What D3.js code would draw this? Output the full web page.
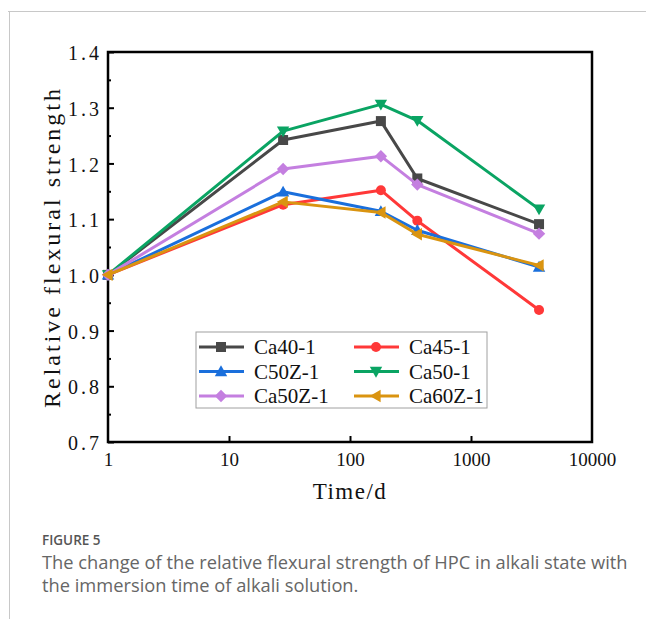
<!DOCTYPE html>
<html>
<head>
<meta charset="utf-8">
<script src="https://cdn.jsdelivr.net/npm/d3@7"></script>
<style>
  body { margin: 0; background: #fff; }
  svg { display: block; }
</style>
</head>
<body>
<div id="chart"></div>
<script>
// immersion time in days
const times = [1, 28, 180, 360, 3650];

const seriesNames = ["Ca40-1", "Ca45-1", "C50Z-1", "Ca50-1", "Ca50Z-1", "Ca60Z-1"];
const ca40 = [1.0, 1.242, 1.276, 1.173, 1.091];
const ca45 = [1.0, 1.126, 1.152, 1.097, 0.937];
const c50z = [1.0, 1.149, 1.114, 1.080, 1.014];
const ca50 = [1.0, 1.258, 1.306, 1.277, 1.118];
const ca50z = [1.0, 1.190, 1.213, 1.162, 1.074];
const ca60z = [1.0, 1.131, 1.112, 1.073, 1.017];

const xTicks = [1, 10, 100, 1000, 10000];
const yTicks = [0.7, 0.8, 0.9, 1.0, 1.1, 1.2, 1.3, 1.4];
const yMinor = [0.75, 0.85, 0.95, 1.05, 1.15, 1.25, 1.35];

const colors = ["#484848", "#ff3838", "#1a6fdc", "#0aa463", "#c47fe0", "#da9410"];
const symbols = ["square", "circle", "up", "down", "diamond", "left"];
const values = [ca40, ca45, c50z, ca50, ca50z, ca60z];

const width = 646, height = 619;
const margins = { top: 52, right: 54, bottom: 177, left: 108 };
const innerWidth = width - margins.left - margins.right;
const innerHeight = height - margins.top - margins.bottom;

const svg = d3.select("#chart").append("svg")
  .attr("width", width)
  .attr("height", height);

// page frame
svg.append("line").attr("x1", 8).attr("x2", width).attr("y1", 11.5).attr("y2", 11.5)
  .attr("stroke", "#c8c8c8").attr("stroke-width", 1);
svg.append("line").attr("x1", 9.5).attr("x2", 9.5).attr("y1", 11).attr("y2", height)
  .attr("stroke", "#c8c8c8").attr("stroke-width", 1);

const mainG = svg.append("g")
  .attr("transform", `translate(${margins.left},${margins.top})`);

const xScale = d3.scaleLog().domain([1, 10000]).range([0, innerWidth]);
const yScale = d3.scaleLinear().domain([0.7, 1.4]).range([innerHeight, 0]);

const serif = "'Liberation Serif', 'DejaVu Serif', serif";

// minor y ticks (no labels)
const minorG = mainG.append("g")
  .call(d3.axisLeft(yScale).tickValues(yMinor).tickSize(-3).tickFormat(""));
minorG.select(".domain").remove();
minorG.selectAll("text").remove();
minorG.selectAll("line").attr("stroke", "#000").attr("stroke-width", 2);

// y axis
const yAxisG = mainG.append("g")
  .call(d3.axisLeft(yScale).tickValues(yTicks).tickSize(-6).tickPadding(6)
    .tickFormat(d3.format(".1f")));
yAxisG.select(".domain").remove();
yAxisG.selectAll("line").attr("stroke", "#000").attr("stroke-width", 2);
yAxisG.selectAll("text")
  .attr("font-family", serif).attr("font-size", "20px").attr("fill", "#111")
  .attr("letter-spacing", "3px")
  .attr("dy", "0.38em");

// x axis
const xAxisG = mainG.append("g")
  .attr("transform", `translate(0,${innerHeight})`)
  .call(d3.axisBottom(xScale).tickValues(xTicks).tickSize(0).tickPadding(11)
    .tickFormat(d3.format("d")));
xAxisG.select(".domain").remove();
xAxisG.selectAll("text")
  .attr("font-family", serif).attr("font-size", "19px").attr("fill", "#111");
xAxisG.selectAll(".tick")
  .filter((d) => d > 1 && d < 10000)
  .append("line").attr("y2", -6).attr("stroke", "#000").attr("stroke-width", 2);

// frame
mainG.append("rect")
  .attr("width", innerWidth).attr("height", innerHeight)
  .attr("fill", "none").attr("stroke", "#000").attr("stroke-width", 2.5);

// axis labels
mainG.append("text")
  .attr("x", innerWidth / 2).attr("y", innerHeight + 57)
  .attr("text-anchor", "middle")
  .attr("font-family", serif).attr("font-size", "23px").attr("fill", "#111")
  .attr("letter-spacing", "1.5px")
  .text("Time/d");

mainG.append("text")
  .attr("transform", `translate(${52 - margins.left},${innerHeight / 2}) rotate(-90)`)
  .attr("text-anchor", "middle")
  .attr("dy", "0.35em")
  .attr("font-family", serif).attr("font-size", "24px").attr("fill", "#111")
  .attr("letter-spacing", "3px")
  .text("Relative flexural strength");

function symbolPath(kind, s) {
  if (kind === "square") return d3.symbol(d3.symbolSquare, s * s)();
  if (kind === "circle") return d3.symbol(d3.symbolCircle, Math.PI * (s / 2) * (s / 2))();
  if (kind === "diamond") return `M0,${-s * 0.62}L${s * 0.62},0L0,${s * 0.62}L${-s * 0.62},0Z`;
  const a = s * 0.62;
  if (kind === "up") return `M0,${-a}L${a},${a * 0.75}L${-a},${a * 0.75}Z`;
  if (kind === "down") return `M0,${a}L${a},${-a * 0.75}L${-a},${-a * 0.75}Z`;
  if (kind === "left") return `M${-a},0L${a * 0.75},${-a}L${a * 0.75},${a}Z`;
}

const line = d3.line()
  .x((d) => xScale(d[0]))
  .y((d) => yScale(d[1]));

const seriesG = mainG.append("g").attr("class", "series");
values.forEach((vals, i) => {
  const pts = times.map((t, j) => [t, vals[j]]);
  const g = seriesG.append("g");
  g.append("path")
    .datum(pts)
    .attr("d", line)
    .attr("fill", "none")
    .attr("stroke", colors[i])
    .attr("stroke-width", 3)
    .attr("stroke-linejoin", "round");
  g.selectAll("path.marker")
    .data(pts)
    .join("path")
    .attr("class", "marker")
    .attr("transform", (d) => `translate(${xScale(d[0])},${yScale(d[1])})`)
    .attr("d", symbolPath(symbols[i], 10))
    .attr("fill", colors[i]);
});

// legend
const legendG = svg.append("g").attr("transform", "translate(196,332)");
legendG.append("rect")
  .attr("width", 291).attr("height", 76)
  .attr("fill", "#fff").attr("stroke", "#a0a0a0").attr("stroke-width", 1);

const legendItems = legendG.selectAll("g.item")
  .data(seriesNames)
  .join("g")
  .attr("class", "item")
  .attr("transform", (d, i) => `translate(${(i % 2) * 155 + 3},${Math.floor(i / 2) * 24.5 + 15})`);

legendItems.append("line")
  .attr("x1", 0).attr("x2", 45)
  .attr("stroke", (d, i) => colors[i]).attr("stroke-width", 3);
legendItems.append("path")
  .attr("transform", "translate(22,0)")
  .attr("d", (d, i) => symbolPath(symbols[i], 10))
  .attr("fill", (d, i) => colors[i]);
legendItems.append("text")
  .attr("x", 55).attr("dy", "0.35em")
  .attr("font-family", serif).attr("font-size", "21px").attr("fill", "#111")
  .text((d) => d);

// caption
const sans = "'Open Sans', 'Noto Sans', sans-serif";
svg.append("text")
  .attr("x", 42).attr("y", 545)
  .attr("font-family", sans).attr("font-size", "13.5px").attr("font-weight", 600)
  .attr("fill", "#555")
  .text("FIGURE 5");
svg.append("text")
  .attr("x", 42).attr("y", 569)
  .attr("font-family", sans).attr("font-size", "18.3px").attr("fill", "#666")
  .text("The change of the relative flexural strength of HPC in alkali state with");
svg.append("text")
  .attr("x", 42).attr("y", 592)
  .attr("font-family", sans).attr("font-size", "18.3px").attr("fill", "#666")
  .text("the immersion time of alkali solution.");
</script>
</body>
</html>
